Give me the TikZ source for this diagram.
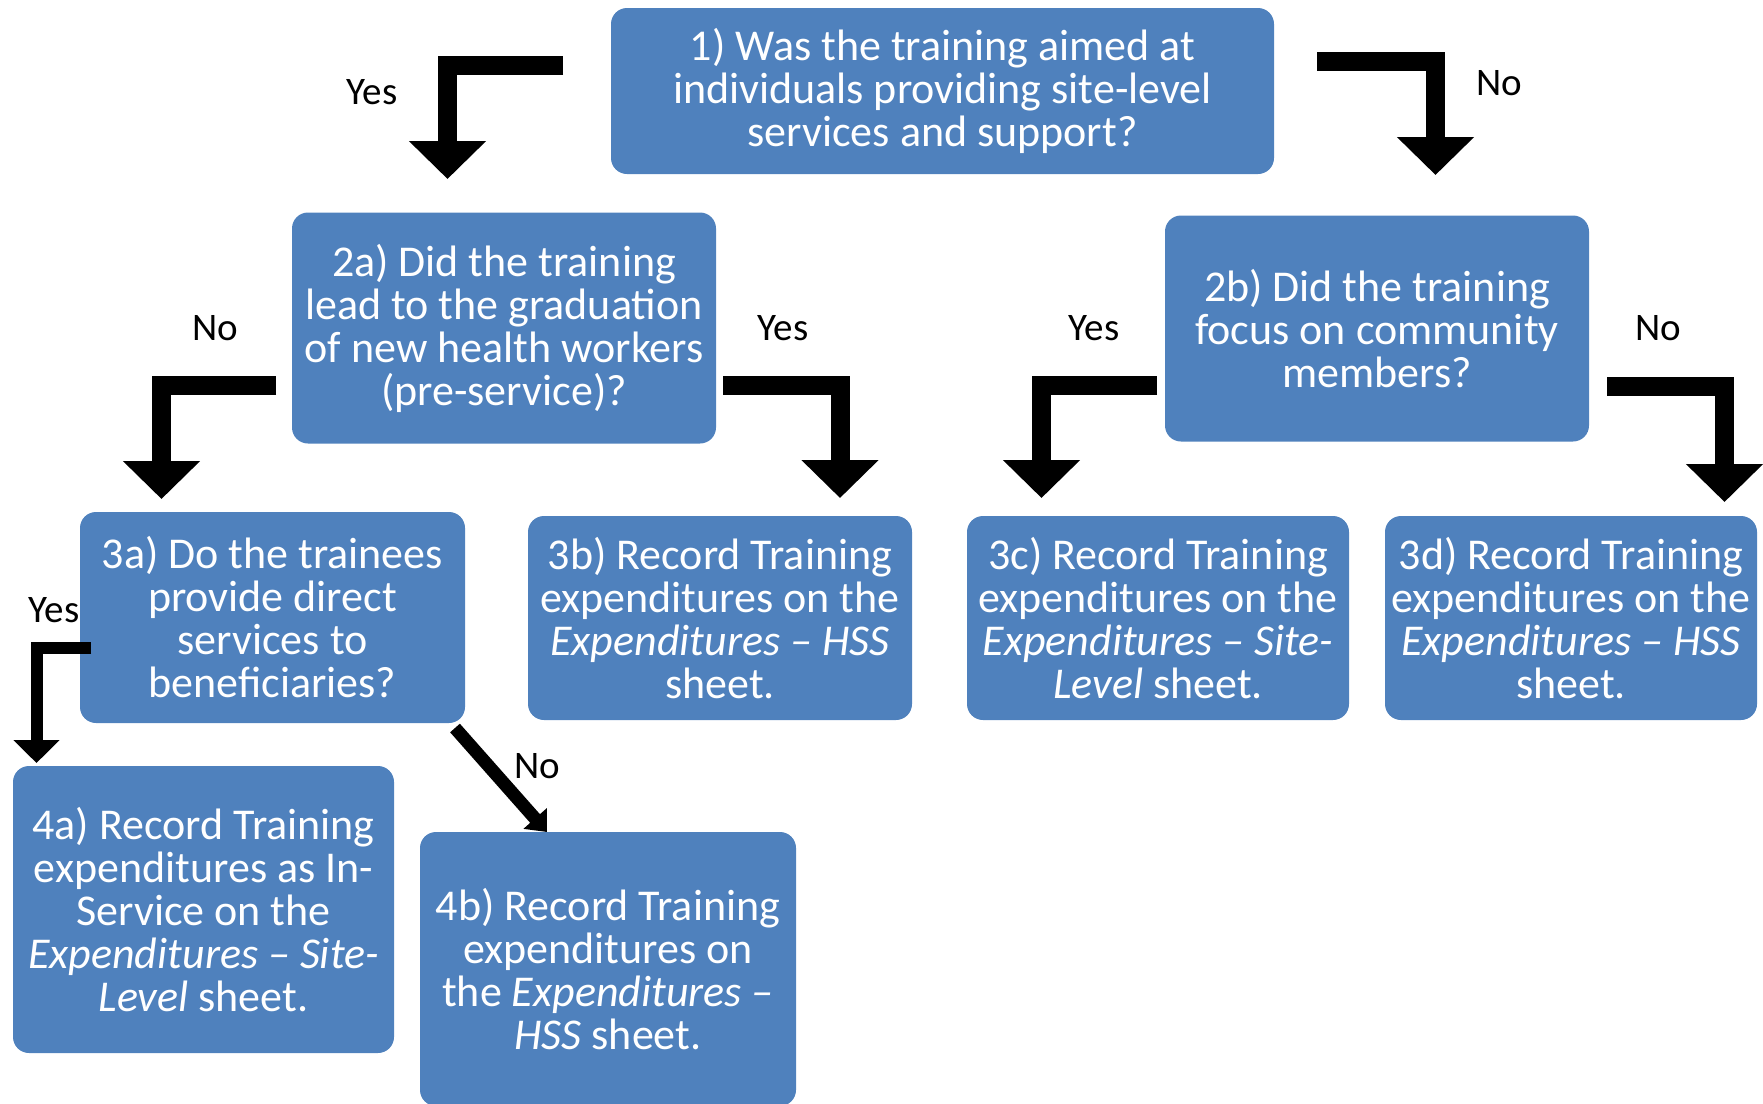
\documentclass[tikz,border=0pt]{standalone}
\usepackage{fontspec}
\setmainfont{Carlito}
\usetikzlibrary{arrows.meta}
\definecolor{boxblue}{HTML}{4F81BD}
\begin{document}
\begin{tikzpicture}[x=1pt,y=-1pt,
  qbox/.style={rectangle, rounded corners=16pt, fill=boxblue, text=white,
    inner sep=0pt, align=center, font=\fontsize{44}{43}\selectfont},
  lbl/.style={font=\fontsize{39}{39}\selectfont, text=black, inner sep=0pt},
  bentarrow/.style={line width=19pt, line join=miter,
    -{Triangle[width=75pt,length=38pt]}},
  smallbent/.style={line width=12pt, line join=miter,
    -{Triangle[width=45pt,length=23pt]}},
  slantarrow/.style={line width=13pt, -{Triangle[width=30pt,length=18pt]}}]
\useasboundingbox (0,0) rectangle (1763,1103);

% decision and record boxes
\node[qbox, minimum width=663pt, minimum height=166pt] (q1) at (942.5,91)
  {1) Was the training aimed at\\ individuals providing site-level\\ services and support?};
\node[qbox, minimum width=424pt, minimum height=231pt] (q2a) at (504,328)
  {2a) Did the training\\ lead to the graduation\\ of new health workers\\ (pre-service)?};
\node[qbox, minimum width=424pt, minimum height=226pt] (q2b) at (1377,328.5)
  {2b) Did the training\\ focus on community\\ members?};
\node[qbox, minimum width=385pt, minimum height=211pt] (q3a) at (272.5,617.5)
  {3a) Do the trainees\\ provide direct\\ services to\\ beneficiaries?};
\node[qbox, minimum width=384pt, minimum height=204pt] (r3b) at (720,618)
  {3b) Record Training\\ expenditures on the\\ \textit{Expenditures -- HSS}\\ sheet.};
\node[qbox, minimum width=382pt, minimum height=204pt] (r3c) at (1158,618)
  {3c) Record Training\\ expenditures on the\\ \textit{Expenditures -- Site-}\\ \textit{Level} sheet.};
\node[qbox, minimum width=372pt, minimum height=204pt] (r3d) at (1571,618)
  {3d) Record Training\\ expenditures on the\\ \textit{Expenditures -- HSS}\\ sheet.};
\node[qbox, minimum width=381pt, minimum height=287pt] (r4a) at (203.5,909.5)
  {4a) Record Training\\ expenditures as In-\\ Service on the\\ \textit{Expenditures -- Site-}\\ \textit{Level} sheet.};
\node[qbox, minimum width=376pt, minimum height=274pt] (r4b) at (608,969)
  {4b) Record Training\\ expenditures on\\ the \textit{Expenditures --}\\ \textit{HSS} sheet.};

% ends of the bent arrows
\coordinate (a1s) at (563,65.5);   \coordinate (a1e) at (447.5,179);
\coordinate (a2s) at (1317,61);    \coordinate (a2e) at (1435.5,175);
\coordinate (a3s) at (276,385);    \coordinate (a3e) at (161.5,499);
\coordinate (a4s) at (723,385);    \coordinate (a4e) at (840,498);
\coordinate (a5s) at (1157,385);   \coordinate (a5e) at (1041.5,498);
\coordinate (a6s) at (1607,386.5); \coordinate (a6e) at (1724.5,502);
\coordinate (a7s) at (91,647.5);   \coordinate (a7e) at (36.5,763);
\coordinate (a8s) at (455,728);    \coordinate (a8e) at (547,832);

\draw[bentarrow] (a1s) -| (a1e);
\draw[bentarrow] (a2s) -| (a2e);
\draw[bentarrow] (a3s) -| (a3e);
\draw[bentarrow] (a4s) -| (a4e);
\draw[bentarrow] (a5s) -| (a5e);
\draw[bentarrow] (a6s) -| (a6e);
\draw[smallbent] (a7s) -| (a7e);
\draw[slantarrow] (a8s) -- (a8e);

% answer labels
\node[lbl] (l1) at (372,92) {Yes};
\node[lbl] (l2) at (1499,83) {No};
\node[lbl] (l3) at (215,328) {No};
\node[lbl] (l4) at (783,328) {Yes};
\node[lbl] (l5) at (1094,328) {Yes};
\node[lbl] (l6) at (1658,328) {No};
\node[lbl] (l7) at (54,610) {Yes};
\node[lbl] (l8) at (537,766) {No};
\end{tikzpicture}
\end{document}
